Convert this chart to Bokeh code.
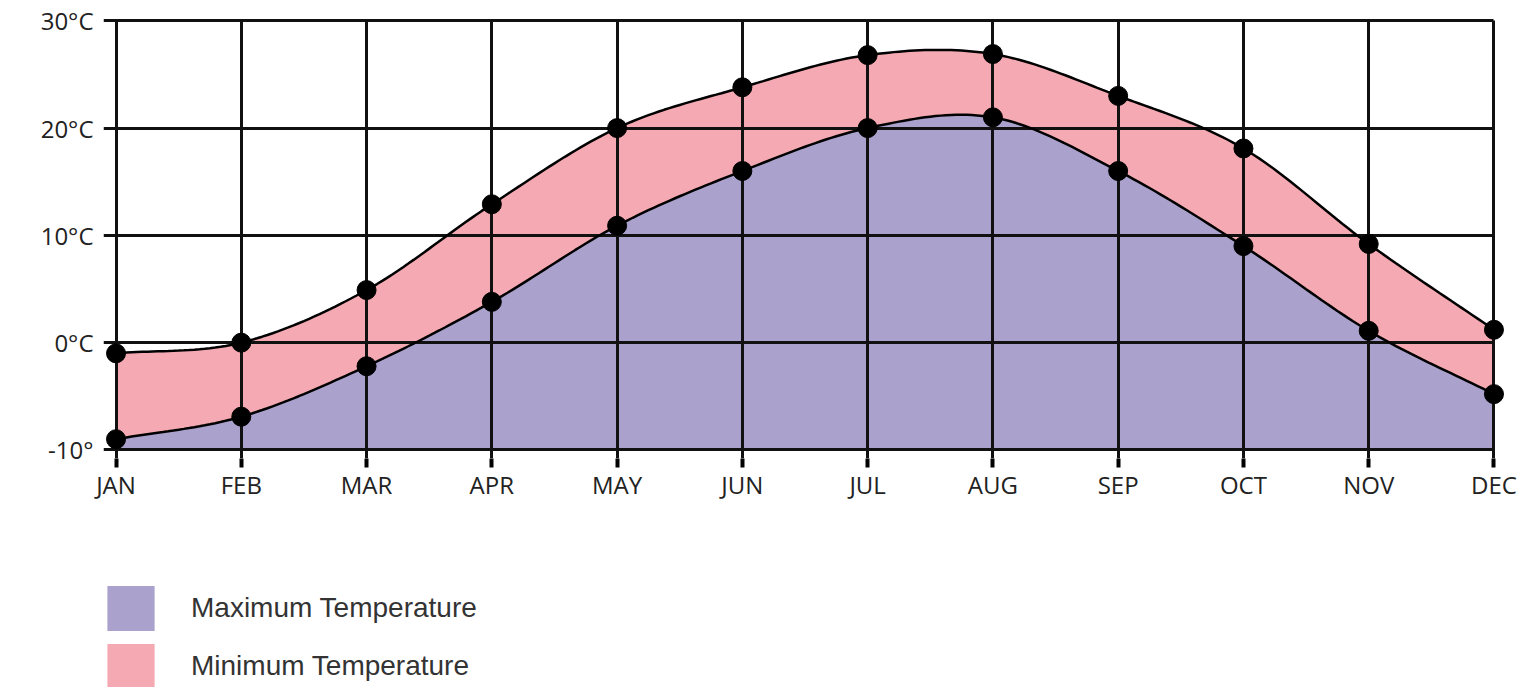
import numpy as np
from bokeh.plotting import figure
from bokeh.layouts import column
from bokeh.models import FixedTicker, Legend, LegendItem, ColumnDataSource
from bokeh.embed import file_html
from bokeh.resources import INLINE

# ---- data ----
months = ["JAN", "FEB", "MAR", "APR", "MAY", "JUN", "JUL", "AUG", "SEP", "OCT", "NOV", "DEC"]
upper_temp = [-1.0, 0.0, 4.9, 12.9, 20.0, 23.8, 26.8, 26.9, 23.0, 18.1, 9.2, 1.2]
lower_temp = [-9.0, -6.9, -2.2, 3.8, 10.9, 16.0, 20.0, 21.0, 16.0, 9.0, 1.1, -4.8]
y_ticks = [-10, 0, 10, 20, 30]
y_tick_labels = ["-10°", "0°C", "10°C", "20°C", "30°C"]
legend_labels = ["Maximum Temperature", "Minimum Temperature"]
base_temp = -10

PURPLE = "#AAA2CD"
PINK = "#F5AAB3"
FONT = "Open Sans"


def smooth(vals, n=24):
    """Cubic Hermite (Catmull-Rom) curve through the points, for drawing only."""
    y = np.asarray(vals, dtype=float)
    k = len(y)
    m = np.empty(k)
    m[1:-1] = (y[2:] - y[:-2]) / 2.0
    m[0] = y[1] - y[0]
    m[-1] = y[-1] - y[-2]
    xs, ys = [], []
    for i in range(k - 1):
        t = np.linspace(0, 1, n, endpoint=(i == k - 2))
        h00 = 2 * t**3 - 3 * t**2 + 1
        h10 = t**3 - 2 * t**2 + t
        h01 = -2 * t**3 + 3 * t**2
        h11 = t**3 - t**2
        xs.extend(i + t)
        ys.extend(h00 * y[i] + h10 * m[i] + h01 * y[i + 1] + h11 * m[i + 1])
    return np.array(xs), np.array(ys)


x_idx = list(range(len(months)))
sx, s_up = smooth(upper_temp)
_, s_lo = smooth(lower_temp)
curve = ColumnDataSource(dict(x=sx, up=s_up, lo=s_lo, base=np.full(len(sx), base_temp)))
pts = ColumnDataSource(dict(x=x_idx, up=upper_temp, lo=lower_temp))

X0, X1 = -0.1, len(months) - 1 + 0.1
Y0, Y1 = -10.8, 30.4

p = figure(
    width=1521, height=512,
    x_range=(X0, X1), y_range=(Y0, Y1),
    output_backend="svg", toolbar_location=None,
    min_border_left=103, min_border_right=15, min_border_top=16, min_border_bottom=54,
)
p.outline_line_color = None
p.background_fill_color = "white"
p.border_fill_color = "white"

p.varea(x="x", y1="base", y2="lo", source=curve, fill_color=PURPLE, level="image")
p.varea(x="x", y1="lo", y2="up", source=curve, fill_color=PINK, level="image")

p.line(x="x", y="up", source=curve, line_color="black", line_width=2.5)
p.line(x="x", y="lo", source=curve, line_color="black", line_width=2.5)
p.scatter(x="x", y="up", source=pts, size=19, fill_color="black", line_color="black")
p.scatter(x="x", y="lo", source=pts, size=19, fill_color="black", line_color="black")

# axes
p.xaxis.ticker = FixedTicker(ticks=x_idx)
p.xaxis.major_label_overrides = {i: m for i, m in zip(x_idx, months)}
p.yaxis.ticker = FixedTicker(ticks=y_ticks)
p.yaxis.major_label_overrides = {v: s for v, s in zip(y_ticks, y_tick_labels)}
for ax in (p.xaxis, p.yaxis):
    ax.axis_line_color = None
    ax.major_tick_line_color = "black"
    ax.major_tick_line_width = 4
    ax.major_tick_in = 0
    ax.minor_tick_line_color = None
    ax.major_label_text_font = FONT
    ax.major_label_text_font_size = "24px"
    ax.major_label_text_color = "#222222"
p.xaxis.major_tick_out = 9
p.xaxis.major_label_standoff = 0
p.yaxis.major_tick_out = 0
p.yaxis.major_label_standoff = 10

# grid
p.xgrid.ticker = FixedTicker(ticks=x_idx)
p.ygrid.ticker = FixedTicker(ticks=y_ticks)
for g in (p.xgrid, p.ygrid):
    g.grid_line_color = "#111111"
    g.grid_line_width = 3
    g.grid_line_alpha = 1.0
try:
    p.xgrid.cross_bounds = (Y0, y_ticks[-1])
    p.ygrid.cross_bounds = (X0, len(months) - 1)
except Exception:
    pass

# ---- legend strip below the chart (its ranges lie outside the data, so only the legend shows) ----
lg = figure(
    width=1521, height=175, x_range=(-3, -2), y_range=(0, 1),
    output_backend="svg", toolbar_location=None,
    min_border_left=0, min_border_right=0, min_border_top=0, min_border_bottom=0,
)
lg.axis.visible = False
lg.grid.visible = False
lg.outline_line_color = None
d_max = lg.varea(x="x", y1="base", y2="lo", source=curve, fill_color=PURPLE)
d_min = lg.varea(x="x", y1="lo", y2="up", source=curve, fill_color=PINK)

legend = Legend(
    items=[LegendItem(label=legend_labels[0], renderers=[d_max]),
           LegendItem(label=legend_labels[1], renderers=[d_min])],
    location=(-2, -7),
    glyph_width=59, glyph_height=56, label_height=56,
    label_standoff=31, spacing=2, padding=0, margin=0,
    border_line_color=None, background_fill_alpha=0,
    label_text_font="Liberation Sans", label_text_font_size="28px",
    label_text_color="#333333",
)
lg.add_layout(legend)

open("out.html", "w").write(file_html(column(p, lg, spacing=0), INLINE))
